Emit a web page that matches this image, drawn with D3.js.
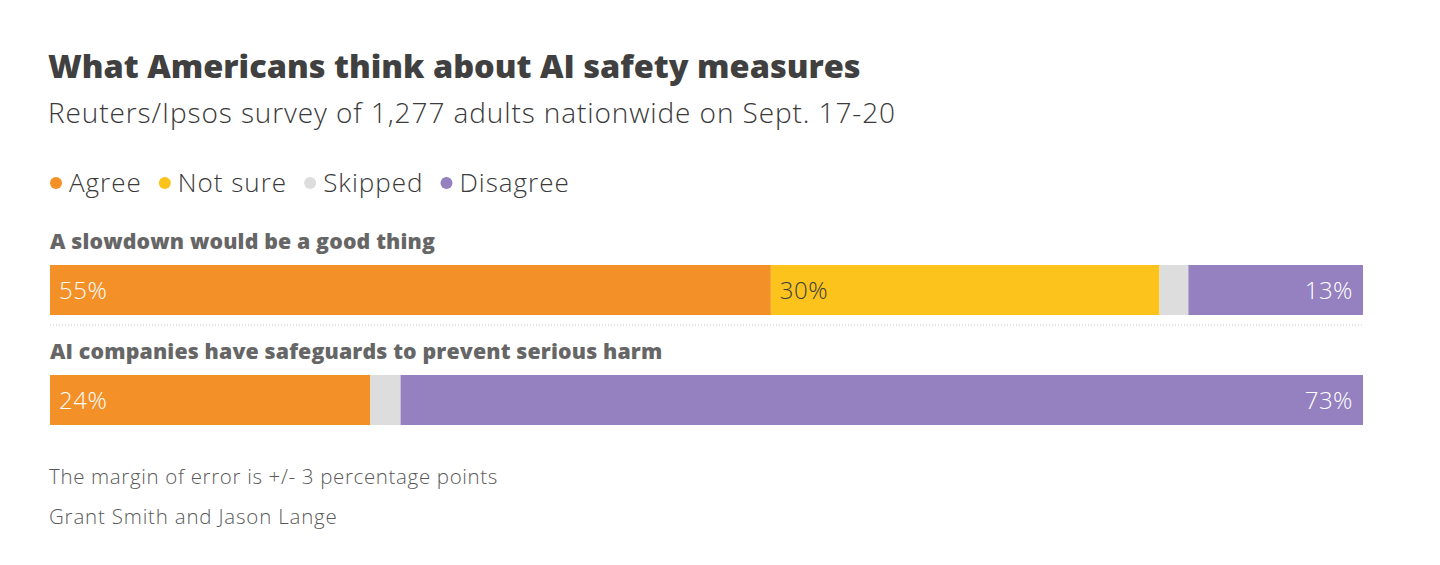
<!DOCTYPE html>
<html>
<head>
<meta charset="utf-8">
<script src="https://cdn.jsdelivr.net/npm/d3@7"></script>
<style>
  body { margin: 0; background: #fff; }
  text { font-family: "Open Sans", "Noto Sans", sans-serif; }
</style>
</head>
<body>
<svg id="chart" width="1440" height="565"></svg>
<script>
var categories = ["Agree", "Not sure", "Skipped", "Disagree"];
var colors = ["#f39028", "#fbc31b", "#dddddd", "#9581bf"];
var questions = ["A slowdown would be a good thing", "AI companies have safeguards to prevent serious harm"];
var agree = [54.9, 24.4];
var notSure = [29.6, 0];
var skipped = [2.2, 2.3];
var disagree = [13.3, 73.3];
var valueLabels = [["55%", "30%", "", "13%"], ["24%", "", "", "73%"]];

var svg = d3.select("#chart");
var left = 50, right = 1363;

svg.append("text").attr("x", 48).attr("y", 78)
  .attr("font-size", 32.5).attr("font-weight", 800).attr("fill", "#404040")
  .text("What Americans think about AI safety measures");
svg.append("text").attr("x", 48).attr("y", 123)
  .attr("font-size", 28).attr("font-weight", 300).attr("fill", "#3a3a3a")
  .attr("letter-spacing", 0.9)
  .text("Reuters/Ipsos survey of 1,277 adults nationwide on Sept. 17-20");

// legend
var lx = 50;
categories.forEach(function(c, i) {
  svg.append("circle").attr("cx", lx + 6).attr("cy", 183).attr("r", 6).attr("fill", colors[i]);
  var t = svg.append("text").attr("x", lx + 19).attr("y", 192)
    .attr("font-size", 26).attr("font-weight", 300).attr("fill", "#3a3a3a")
    .attr("letter-spacing", 1).text(c);
  lx += 19 + t.node().getComputedTextLength() + 17;
});

var x = d3.scaleLinear().domain([0, 100]).range([left, right]);
var rowTop = [265, 375];

questions.forEach(function(q, i) {
  var vals = [agree[i], notSure[i], skipped[i], disagree[i]];
  var stack = d3.cumsum(vals);
  svg.append("text").attr("x", 50).attr("y", rowTop[i] - 16)
    .attr("font-size", 21.3).attr("font-weight", 800).attr("fill", "#666")
    .attr("letter-spacing", 0.15)
    .text(q);
  var g = svg.append("g");
  g.selectAll("rect").data(vals).enter().append("rect")
    .attr("x", function(d, j) { return x(stack[j] - d); })
    .attr("width", function(d) { return x(d) - x(0); })
    .attr("y", rowTop[i]).attr("height", 50)
    .attr("fill", function(d, j) { return colors[j]; });
  vals.forEach(function(d, j) {
    var lab = valueLabels[i][j];
    if (!lab) return;
    var isLast = j === vals.length - 1;
    g.append("text")
      .attr("x", isLast ? x(stack[j]) - 10 : x(stack[j] - d) + 9)
      .attr("y", rowTop[i] + 34)
      .attr("text-anchor", isLast ? "end" : "start")
      .attr("font-size", 24).attr("font-weight", 300).attr("letter-spacing", 0.5)
      .attr("fill", j === 1 ? "#404040" : "#fff")
      .text(lab);
  });
});

svg.append("line").attr("x1", left).attr("x2", right).attr("y1", 325).attr("y2", 325)
  .attr("stroke", "#ccc").attr("stroke-width", 1).attr("stroke-dasharray", "1,2");

svg.append("text").attr("x", 49).attr("y", 484)
  .attr("font-size", 20.5).attr("font-weight", 300).attr("fill", "#5a5a5a").attr("letter-spacing", 0.65)
  .text("The margin of error is +/- 3 percentage points");
svg.append("text").attr("x", 49).attr("y", 524)
  .attr("font-size", 20.5).attr("font-weight", 300).attr("fill", "#5a5a5a").attr("letter-spacing", 0.8)
  .text("Grant Smith and Jason Lange");
</script>
</body>
</html>
